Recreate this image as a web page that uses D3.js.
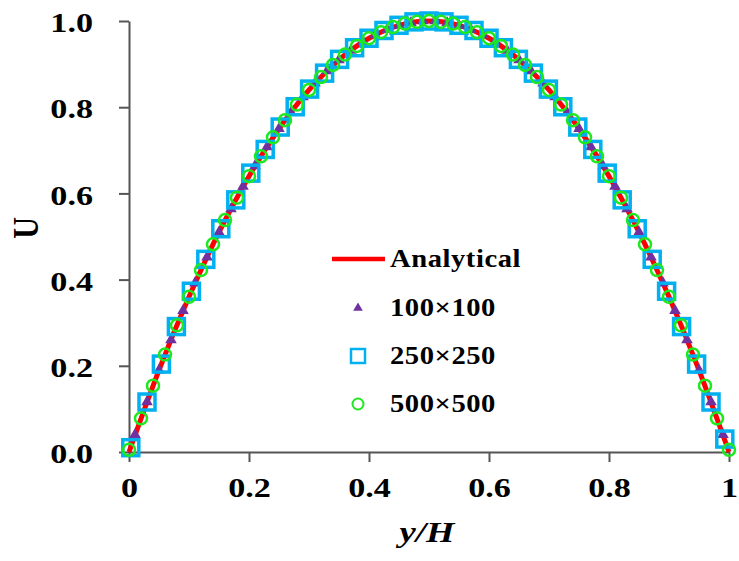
<!DOCTYPE html>
<html>
<head>
<meta charset="utf-8">
<script src="https://cdn.jsdelivr.net/npm/d3@7"></script>
<style>
  html, body { margin: 0; padding: 0; background: #fff; }
  svg { display: block; }
  text { font-family: "Liberation Serif", "Times New Roman", serif; font-weight: bold; }
</style>
</head>
<body>
<svg id="chart" width="739" height="561"></svg>
<script>
// ---------- data ----------
const xTicks = [0, 0.2, 0.4, 0.6, 0.8, 1];
const xTickLabels = ["0", "0.2", "0.4", "0.6", "0.8", "1"];
const yTicks = [0, 0.2, 0.4, 0.6, 0.8, 1.0];
const yTickLabels = ["0.0", "0.2", "0.4", "0.6", "0.8", "1.0"];

// Analytical profile
const analyticalX = [0, 0.05, 0.1, 0.15, 0.2, 0.25, 0.3, 0.35, 0.4, 0.45, 0.5,
                     0.55, 0.6, 0.65, 0.7, 0.75, 0.8, 0.85, 0.9, 0.95, 1.0];
const analyticalU = [0, 0.19, 0.36, 0.51, 0.64, 0.75, 0.84, 0.91, 0.96, 0.99, 1.0,
                     0.99, 0.96, 0.91, 0.84, 0.75, 0.64, 0.51, 0.36, 0.19, 0];

// 100x100 (triangles)
const g100X = [0.01, 0.03, 0.05, 0.07, 0.09, 0.11, 0.13, 0.15, 0.17, 0.19, 0.21, 0.23, 0.25,
               0.27, 0.29, 0.31, 0.33, 0.35, 0.37, 0.39, 0.41, 0.43, 0.45, 0.47, 0.49,
               0.51, 0.53, 0.55, 0.57, 0.59, 0.61, 0.63, 0.65, 0.67, 0.69, 0.71, 0.73, 0.75,
               0.77, 0.79, 0.81, 0.83, 0.85, 0.87, 0.89, 0.91, 0.93, 0.95, 0.97, 0.99];
const g100U = [0.040, 0.116, 0.190, 0.260, 0.328, 0.392, 0.452, 0.510, 0.564, 0.616, 0.664, 0.708, 0.750,
               0.788, 0.824, 0.856, 0.884, 0.910, 0.932, 0.952, 0.968, 0.980, 0.990, 0.996, 1.000,
               1.000, 0.996, 0.990, 0.980, 0.968, 0.952, 0.932, 0.910, 0.884, 0.856, 0.824, 0.788, 0.750,
               0.708, 0.664, 0.616, 0.564, 0.510, 0.452, 0.392, 0.328, 0.260, 0.190, 0.116, 0.040];

// 250x250 (squares)
const g250X = [0.003, 0.030, 0.054, 0.079, 0.104, 0.128, 0.153, 0.178, 0.203, 0.227, 0.252,
               0.277, 0.301, 0.326, 0.351, 0.376, 0.400, 0.425, 0.450, 0.475, 0.500,
               0.525, 0.550, 0.575, 0.600, 0.624, 0.649, 0.674, 0.699, 0.723, 0.748,
               0.773, 0.797, 0.822, 0.847, 0.872, 0.896, 0.921, 0.946, 0.970, 0.993];
const g250U = [0.010, 0.116, 0.204, 0.291, 0.373, 0.447, 0.518, 0.585, 0.647, 0.702, 0.754,
               0.801, 0.842, 0.879, 0.911, 0.938, 0.960, 0.978, 0.990, 0.998, 1.000,
               0.998, 0.990, 0.978, 0.960, 0.938, 0.911, 0.879, 0.842, 0.801, 0.754,
               0.702, 0.647, 0.585, 0.518, 0.447, 0.373, 0.291, 0.204, 0.116, 0.030];

// 500x500 (circles)
const g500X = [0, 0.02, 0.04, 0.06, 0.08, 0.10, 0.12, 0.14, 0.16, 0.18, 0.20, 0.22, 0.24, 0.26,
               0.28, 0.30, 0.32, 0.34, 0.36, 0.38, 0.40, 0.42, 0.44, 0.46, 0.48, 0.50,
               0.52, 0.54, 0.56, 0.58, 0.60, 0.62, 0.64, 0.66, 0.68, 0.70, 0.72, 0.74,
               0.76, 0.78, 0.80, 0.82, 0.84, 0.86, 0.88, 0.90, 0.92, 0.94, 0.96, 0.98, 1.0];
const g500U = [0.005, 0.078, 0.154, 0.226, 0.294, 0.360, 0.422, 0.482, 0.538, 0.590, 0.640, 0.686, 0.730, 0.770,
               0.806, 0.840, 0.870, 0.898, 0.922, 0.942, 0.960, 0.974, 0.986, 0.994, 0.998, 1.000,
               0.998, 0.994, 0.986, 0.974, 0.960, 0.942, 0.922, 0.898, 0.870, 0.840, 0.806, 0.770,
               0.730, 0.686, 0.640, 0.590, 0.538, 0.482, 0.422, 0.360, 0.294, 0.226, 0.154, 0.078, 0.005];

const legendLabels = ["Analytical", "100\u00d7100", "250\u00d7250", "500\u00d7500"];

// ---------- layout ----------
const svg = d3.select("#chart");
const margin = { left: 129, right: 10, top: 21, bottom: 109 };
const W = 739, H = 561;
const x = d3.scaleLinear().domain([0, 1]).range([margin.left, W - margin.right]);
const y = d3.scaleLinear().domain([0, 1]).range([H - margin.bottom, margin.top]);

const axisColor = "#555";
const SX = 1.22; // horizontal stretch of text as in the reference

// x axis
const gx = svg.append("g").attr("transform", `translate(0,${y(0)})`)
  .call(d3.axisBottom(x).tickValues(xTicks).tickFormat((d, i) => xTickLabels[i])
        .tickSize(10).tickSizeOuter(0));
gx.attr("font-family", null).attr("font-size", null);
gx.select(".domain").attr("stroke", axisColor).attr("stroke-width", 2);
gx.selectAll(".tick line").attr("stroke", axisColor).attr("stroke-width", 2);
gx.selectAll(".tick text")
  .attr("fill", "#000").attr("font-size", 28)
  .attr("y", 45).attr("dy", 0)
  .attr("transform", `scale(${SX},1)`);

// y axis
const gy = svg.append("g").attr("transform", `translate(${x(0)},0)`)
  .call(d3.axisLeft(y).tickValues(yTicks).tickFormat((d, i) => yTickLabels[i])
        .tickSize(10).tickSizeOuter(0));
gy.attr("font-family", null).attr("font-size", null);
gy.select(".domain").attr("stroke", axisColor).attr("stroke-width", 2);
gy.selectAll(".tick line").attr("stroke", axisColor).attr("stroke-width", 2);
gy.selectAll(".tick text")
  .attr("fill", "#000").attr("font-size", 28)
  .attr("x", -36 / SX).attr("dy", "0.38em")
  .attr("transform", `scale(${SX},1)`);

// axis titles
svg.append("text")
  .attr("transform", `translate(427,542) scale(${SX},1)`)
  .attr("text-anchor", "middle").attr("font-size", 30).attr("font-style", "italic")
  .text("y/H");
svg.append("text")
  .attr("transform", `translate(38,228) rotate(-90) scale(1,${SX})`)
  .attr("text-anchor", "middle").attr("font-size", 30)
  .text("U");

// ---------- marks ----------
const colors = { line: "#ff0000", tri: "#7030a0", sq: "#00b0f0", circ: "#1ee81e" };

const line = d3.line().x((d, i) => x(analyticalX[i])).y(d => y(d)).curve(d3.curveNatural);
svg.append("path").datum(analyticalU)
  .attr("d", line).attr("fill", "none").attr("stroke", colors.line).attr("stroke-width", 5);

const tri = d3.symbol().type(d3.symbolTriangle).size(58);
svg.append("g").selectAll("path").data(g100U).join("path")
  .attr("transform", (d, i) => `translate(${x(g100X[i])},${y(d)})`)
  .attr("d", tri).attr("fill", colors.tri);

svg.append("g").selectAll("rect").data(g250U).join("rect")
  .attr("x", (d, i) => x(g250X[i]) - 8).attr("y", d => y(d) - 8)
  .attr("width", 16).attr("height", 16)
  .attr("fill", "none").attr("stroke", colors.sq).attr("stroke-width", 3.5);

svg.append("g").selectAll("circle").data(g500U).join("circle")
  .attr("cx", (d, i) => x(g500X[i])).attr("cy", d => y(d)).attr("r", 6)
  .attr("fill", "none").attr("stroke", colors.circ).attr("stroke-width", 2.5);

// ---------- legend ----------
const lg = svg.append("g");
const rowY = [259, 308, 356, 404];
lg.append("line").attr("x1", 332).attr("x2", 385).attr("y1", rowY[0]).attr("y2", rowY[0])
  .attr("stroke", colors.line).attr("stroke-width", 4.5);
lg.append("path").attr("transform", `translate(358,${rowY[1]})`)
  .attr("d", d3.symbol().type(d3.symbolTriangle).size(40)).attr("fill", colors.tri);
lg.append("rect").attr("x", 358 - 7).attr("y", rowY[2] - 7).attr("width", 14).attr("height", 14)
  .attr("fill", "none").attr("stroke", colors.sq).attr("stroke-width", 2.5);
lg.append("circle").attr("cx", 358).attr("cy", rowY[3]).attr("r", 5.5)
  .attr("fill", "none").attr("stroke", colors.circ).attr("stroke-width", 2);
lg.selectAll("text.lab").data(legendLabels).join("text").attr("class", "lab")
  .attr("transform", (d, i) => `translate(390,${rowY[i] + 8}) scale(1.1,1)`)
  .attr("font-size", 26).attr("letter-spacing", 0.5)
  .text(d => d);
</script>
</body>
</html>
